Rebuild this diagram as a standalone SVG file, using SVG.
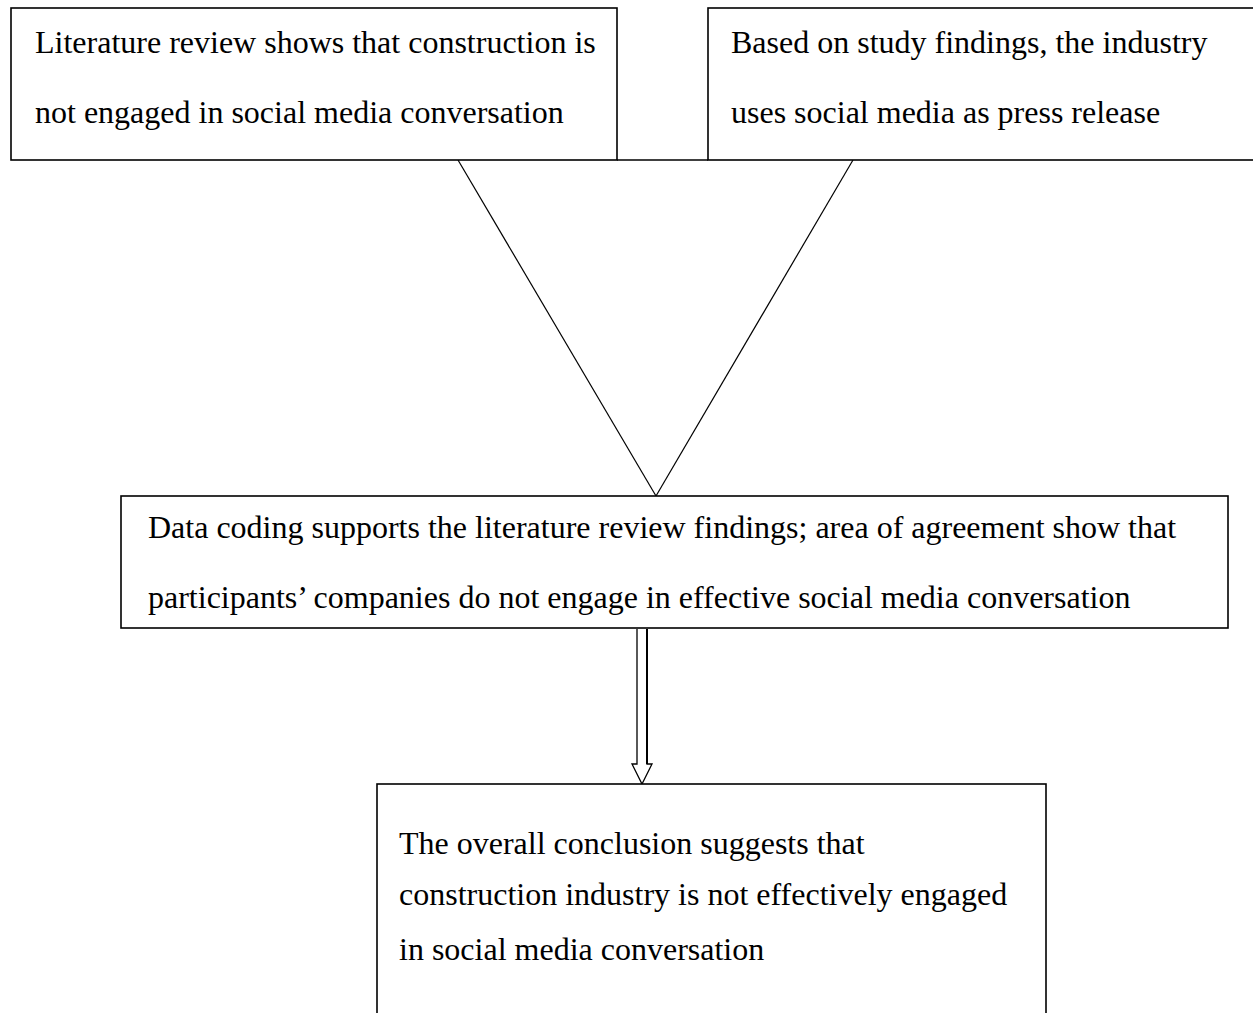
<svg xmlns="http://www.w3.org/2000/svg" width="1253" height="1013" viewBox="0 0 1253 1013">
<style>
.box{fill:#fff;stroke:#000;stroke-width:1.6}
.t{font-family:"Liberation Serif","Times New Roman",serif;font-size:32px;fill:#000}
.ln{stroke:#000;stroke-width:1.2;fill:none}
</style>
<rect width="1253" height="1013" fill="#fff"/>
<g id="connectors">
<line class="ln" x1="458" y1="160" x2="656" y2="496"/>
<line class="ln" x1="853" y1="160" x2="656" y2="496"/>
<path d="M637,629 V764 H632 L642,784 L652,764 H647 V629" fill="#fff" stroke="#000" stroke-width="1.3"/>
<line x1="647" y1="629" x2="647" y2="764" stroke="#000" stroke-width="2"/>
</g>
<g id="n1">
<rect class="box" x="11" y="8" width="606" height="152"/>
<text class="t" x="35" y="53">Literature review shows that construction is</text>
<text class="t" x="35" y="123">not engaged in social media conversation</text>
</g>
<g id="n2">
<rect class="box" x="708" y="8" width="560" height="152"/>
<text class="t" x="731" y="53">Based on study findings, the industry</text>
<text class="t" x="731" y="123">uses social media as press release</text>
</g>
<line class="box" x1="617" y1="160" x2="708" y2="160"/>
<g id="n3">
<rect class="box" x="121" y="496" width="1107" height="132"/>
<text class="t" x="148" y="538">Data coding supports the literature review findings; area of agreement show that</text>
<text class="t" x="148" y="608">participants’ companies do not engage in effective social media conversation</text>
</g>
<g id="n4">
<rect class="box" x="377" y="784" width="669" height="250"/>
<text class="t" x="399" y="854">The overall conclusion suggests that</text>
<text class="t" x="399" y="905">construction industry is not effectively engaged</text>
<text class="t" x="399" y="960">in social media conversation</text>
</g>
</svg>
